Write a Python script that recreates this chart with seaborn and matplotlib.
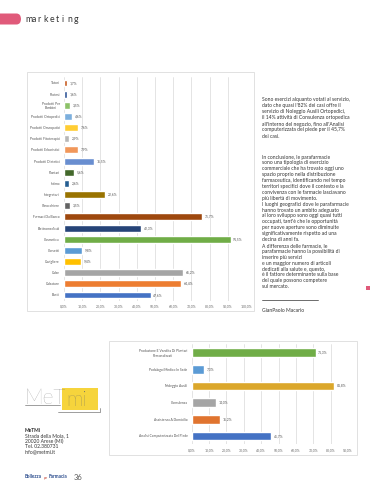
import numpy as np
import pandas as pd
import seaborn as sns
from matplotlib import pyplot as plt
from matplotlib.patches import Rectangle, FancyBboxPatch

# --- data: chart 1 (prodotti venduti), top to bottom ---
cats1 = ["Tutori", "Protesi", "Prodotti Per\nBambini", "Prodotti Ortopedici",
         "Prodotti Omeopatici", "Prodotti Fitoterapici", "Prodotti Erboristici",
         "Prodotti Dietetici", "Plantari", "Intimo", "Integratori", "Ginocchiere",
         "Farmaci Da Banco", "Elettromedicali", "Cosmetica", "Corsetti",
         "Cavigliere", "Calze", "Calzature", "Busti"]
vals1 = [0.017, 0.016, 0.035, 0.046, 0.076, 0.029, 0.079, 0.165, 0.056, 0.026,
         0.226, 0.035, 0.757, 0.423, 0.915, 0.098, 0.094, 0.652, 0.644, 0.476]
colors1 = ["#c65a1e", "#2f5597", "#8cc168", "#7cafdd", "#ffcd33", "#b7b7b7",
           "#f1975a", "#698ed0", "#43682b", "#255e91", "#997300", "#636363",
           "#9e480e", "#264478", "#70ad47", "#5b9bd5", "#ffc000", "#a5a5a5",
           "#ed7d31", "#4472c4"]
ticks1 = [0, 0.1, 0.2, 0.3, 0.4, 0.5, 0.6, 0.7, 0.8, 0.9, 1.0]

# --- data: chart 2 (servizi offerti), top to bottom ---
cats2 = ["Produzione E Vendita Di Plantari\nPersonalizzati", "Podologo/Medico In Sede",
         "Noleggio Ausili", "Consulenza", "Assistenza A Domicilio",
         "Analisi Computerizzata Del Piede"]
vals2 = [0.713, 0.073, 0.818, 0.140, 0.162, 0.457]
colors2 = ["#70ad47", "#5b9bd5", "#dba72b", "#a5a5a5", "#e0742f", "#4472c4"]
ticks2 = [0, 0.1, 0.2, 0.3, 0.4, 0.5, 0.6, 0.7, 0.8, 0.9]

para1 = ["Sono esercizi alquanto votati al servizio,",
         "dato che quasi l'82% dei casi offre il",
         "servizio di Noleggio Ausili Ortopedici,",
         "il 14% attività di Consulenza ortopedica",
         "all'interno del negozio, fino all'Analisi",
         "computerizzata del piede per il 45,7%",
         "dei casi."]
para2 = ["In conclusione, le parafarmacie",
         "sono una tipologia di esercizio",
         "commerciale che ha trovato oggi uno",
         "spazio proprio nella distribuzione",
         "farmaceutica, identificando nel tempo",
         "territori specifici dove il contesto e la",
         "convivenza con le farmacie lasciavano",
         "più libertà di movimento.",
         "I luoghi geografici dove le parafarmacie",
         "hanno trovato un ambito adeguato",
         "al loro sviluppo sono oggi quasi tutti",
         "occupati, tant'è che le opportunità",
         "per nuove aperture sono diminuite",
         "significativamente rispetto ad una",
         "decina di anni fa.",
         "A differenza delle farmacie, le",
         "parafarmacie hanno la possibilità di",
         "inserire più servizi",
         "e un maggior numero di articoli",
         "dedicati alla salute e, questo,",
         "è il fattore determinante sulla base",
         "del quale possono competere",
         "sul mercato."]
address = ["Strada della Moia, 1", "20020 Arese (MI)", "Tel. 02.380731", "info@metmi.it"]

W, H = 380, 495
sns.set_theme(style="white")
plt.rcParams["font.family"] = ["Lato", "DejaVu Sans"]


def fx(x):
    return x / W


def fy(y):
    return 1 - y / H


def rect(x0, y0, x1, y1):
    return [fx(x0), fy(y1), fx(x1) - fx(x0), fy(y0) - fy(y1)]


def pct(v):
    return f"{v * 100:.1f}%".replace(".", ",")


def bar_chart(ax, cats, vals, colors, ticks, xmax, width, fs):
    df = pd.DataFrame({"cat": cats, "val": vals})
    sns.barplot(data=df, y="cat", x="val", hue="cat", palette=colors, orient="h",
                ax=ax, legend=False, width=width, saturation=1)
    for cont, v in zip(ax.containers, vals):
        ax.bar_label(cont, labels=[pct(v)], padding=2, fontsize=fs, color="#555555")
    ax.set_xlim(0, xmax)
    ax.set_xticks(ticks)
    ax.set_xticklabels([pct(t) for t in ticks], fontsize=fs, color="#666666")
    ax.tick_params(axis="y", labelsize=fs, colors="#555555", length=0, pad=3)
    ax.tick_params(axis="x", length=0, pad=3)
    for lab in ax.get_yticklabels():
        lab.set_horizontalalignment("right")
        lab.set_multialignment("center")
    ax.set_xlabel("")
    ax.set_ylabel("")
    ax.xaxis.grid(True, color="#d9d9d9", linewidth=0.5)
    ax.set_axisbelow(True)
    for s in ax.spines.values():
        s.set_visible(False)
    ax.patch.set_alpha(0)


fig = plt.figure(figsize=(W / 100, H / 100), dpi=100)

# chart frames
fig.patches.append(Rectangle((fx(27), fy(311)), fx(254) - fx(27), fy(72) - fy(311),
                             transform=fig.transFigure, fill=False,
                             edgecolor="#dcdcdc", linewidth=0.6))
fig.patches.append(Rectangle((fx(109), fy(455)), fx(357) - fx(109), fy(341) - fy(455),
                             transform=fig.transFigure, fill=False,
                             edgecolor="#dcdcdc", linewidth=0.6))

sp1 = (295 - 83) / 19
ax1 = fig.add_axes(rect(64, 83 - sp1 / 2, 246, 295 + sp1 / 2))
bar_chart(ax1, cats1, vals1, colors1, ticks1, 1.0, 0.62, 2.4)

sp2 = (436 - 352.5) / 5
ax2 = fig.add_axes(rect(191.7, 352.5 - sp2 / 2, 348, 436 + sp2 / 2))
bar_chart(ax2, cats2, vals2, colors2, ticks2, 0.9, 0.52, 2.4)

# header
fig.patches.append(FancyBboxPatch((fx(-10), fy(24.5)), fx(31), fy(13.5) - fy(24.5),
                                  boxstyle="round,pad=0,rounding_size=0.012",
                                  transform=fig.transFigure, facecolor="#e05a7a",
                                  edgecolor="none"))
for i, ch in enumerate("marketing"):
    fig.text(fx(25.5 + i * 6.0), fy(19.5), ch, fontsize=6.3, color="#333333",
             ha="left", va="center")

# body text
for i, line in enumerate(para1):
    fig.text(fx(262), fy(100 + i * 6.0), line, fontsize=3.6, color="#333333",
             ha="left", va="center")
for i, line in enumerate(para2):
    fig.text(fx(262), fy(157 + i * 5.9), line, fontsize=3.6, color="#333333",
             ha="left", va="center")
fig.patches.append(Rectangle((fx(366), fy(290)), fx(4), fy(286) - fy(290),
                             transform=fig.transFigure, facecolor="#e05a7a",
                             edgecolor="none"))
fig.lines.append(plt.Line2D([fx(262), fx(318)], [fy(300), fy(300)],
                            transform=fig.transFigure, color="#555555", lw=0.6))
fig.text(fx(262), fy(310), "GianPaolo Macario", fontsize=3.6, color="#333333",
         ha="left", va="center")

# MeTMi logo
fig.text(fx(25), fy(404), "MeT", fontsize=15, color="#7a7a7a", ha="left",
         va="baseline", fontweight="light")
fig.patches.append(Rectangle((fx(62), fy(410)), fx(36), fy(388) - fy(410),
                             transform=fig.transFigure, facecolor="#f6d43c",
                             edgecolor="none"))
fig.text(fx(66), fy(406), "mi", fontsize=15, color="#6a6a6a", ha="left",
         va="baseline", fontweight="light")
fig.lines.append(plt.Line2D([fx(25), fx(60)], [fy(405), fy(405)],
                            transform=fig.transFigure, color="#777777", lw=0.5))
fig.lines.append(plt.Line2D([fx(58), fx(100), fx(100)], [fy(412), fy(412), fy(408)],
                            transform=fig.transFigure, color="#777777", lw=0.5))
fig.text(fx(25), fy(431), "MeTMi", fontsize=3.6, color="#333333", ha="left",
         va="center", fontweight="bold")
for i, line in enumerate(address):
    fig.text(fx(25), fy(436 + i * 5.2), line, fontsize=3.6, color="#333333",
             ha="left", va="center")

# footer
fig.text(fx(25), fy(477), "Bellezza", fontsize=3.3, color="#2c4d8e", ha="left",
         va="center", fontweight="bold")
fig.text(fx(44), fy(478), "per", fontsize=2.2, color="#c0392b", ha="left",
         va="center", fontstyle="italic")
fig.text(fx(49), fy(477), "Farmacia", fontsize=3.3, color="#2c4d8e", ha="left",
         va="center", fontweight="bold")
fig.text(fx(73.5), fy(478), "36", fontsize=5.5, color="#555555", ha="left", va="center")

fig.savefig("out.png", dpi=100)
